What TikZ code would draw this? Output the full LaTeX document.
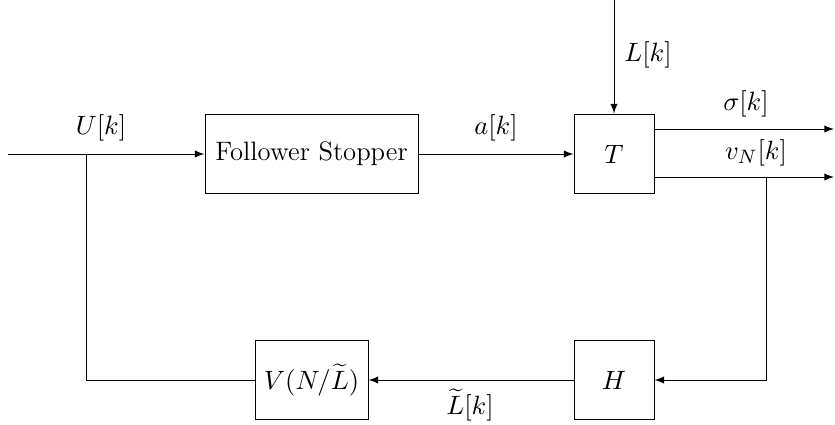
\documentclass[tikz,border=0pt]{standalone}
\usetikzlibrary{arrows}
\begin{document}
\begin{tikzpicture}[x=0.413pt,y=-0.413pt,
  every node/.style={font=\fontsize{11}{13}\selectfont},
  blk/.style={draw,minimum width=#1*0.413pt,minimum height=33pt,inner sep=0pt,line width=0.4pt},
  conn/.style={-latex,line width=0.4pt},
  plain/.style={line width=0.4pt},
  lbl/.style={inner sep=1pt}]
\useasboundingbox (0,0) rectangle (835,424);
\node[blk=213] (fs) at (311.5,154) {Follower Stopper};
\node[blk=80] (t) at (614,154) {$T$};
\node[blk=80] (h) at (614,380) {$H$};
\node[blk=113] (v) at (311.5,380) {$V(N/\widetilde{L})$};
\coordinate (in) at (8,154);
\coordinate (br) at (86,154);
\coordinate (brd) at (86,380);
\coordinate (ltop) at (614,0);
\coordinate (sig) at (834,129);
\coordinate (vn) at (834,177);
\coordinate (vnb) at (766,177);
\coordinate (vnd) at (766,380);
\draw[conn] (in) -- (fs.west);
\draw[conn] (fs.east) -- (t.west);
\draw[conn] (ltop) -- (t.north);
\draw[conn] (t.east |- sig) -- (sig);
\draw[conn] (t.east |- vn) -- (vn);
\draw[conn] (vnb) -- (vnd) -- (h.east);
\draw[conn] (h.west) -- (v.east);
\draw[plain] (br) -- (brd) -- (v.west);
\node[lbl] (lu) at (101,128) {$U[k]$};
\node[lbl] (la) at (496,128) {$a[k]$};
\node[lbl] (ll) at (648,55) {$L[k]$};
\node[lbl] (ls) at (746,104) {$\sigma[k]$};
\node[lbl] (lv) at (756,153) {$v_N[k]$};
\node[lbl] (lt) at (470,405) {$\widetilde{L}[k]$};
\end{tikzpicture}
\end{document}
